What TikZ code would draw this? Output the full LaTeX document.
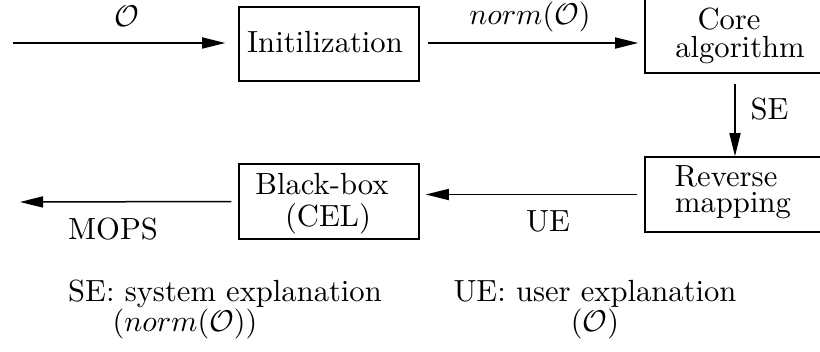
\documentclass[tikz,border=0pt]{standalone}
\usetikzlibrary{arrows.meta,fit}
\begin{document}
\begin{tikzpicture}[x=0.33333pt,y=-0.33333pt,
  every node/.style={font=\fontsize{10.2}{12}\selectfont},
  boxst/.style={draw,line width=0.5pt,inner sep=0pt},
  txt/.style={anchor=base,inner sep=0pt},
  arr/.style={line width=0.5pt,-{Triangle[length=7.7pt,width=3.7pt]}}]
\clip (0,0) rectangle (820,352);
\useasboundingbox (0,0) rectangle (820,352);
% boxes
\node[boxst,fit={(239,7) (419,81)}] (init) {};
\node[boxst,fit={(645,-5) (825,73)}] (core) {};
\node[boxst,fit={(645,157) (825,232)}] (rev) {};
\node[boxst,fit={(239,164) (419,239)}] (bb) {};
% box texts
\node[txt] (tinit) at (325,53) {Initilization};
\node[txt] (tcore1) at (729,30) {Core};
\node[txt] (tcore2) at (740,58) {algorithm};
\node[txt] (trev1) at (726,187) {Reverse};
\node[txt] (trev2) at (733,213) {mapping};
\node[txt] (tbb1) at (322,195) {Black-box};
\node[txt] (tbb2) at (328,227) {(CEL)};
% connectors
\coordinate (in) at (13,43);
\coordinate (out) at (20,202);
\draw[arr,shorten >=4.33pt] (in) -- (in -| init.west);
\draw[arr,shorten <=2.67pt,shorten >=2pt] (in -| init.east) -- (in -| core.west);
\draw[arr,shorten <=3.33pt] (core.south) -- (rev.north);
\draw[arr,shorten <=2.33pt,shorten >=2pt] (rev.west) -- (rev.west -| bb.east);
\draw[arr,shorten <=2.33pt] (bb.west) -- (out);
% connector labels
\node[txt] (lO) at (127,27) {$\mathcal{O}$};
\node[txt] (lnorm) at (530,25) {$norm(\mathcal{O})$};
\node[txt,anchor=base west] (lSE) at (750,120) {SE};
\node[txt] (lUE) at (548,232) {UE};
\node[txt] (lMOPS) at (113,240) {MOPS};
% legend
\node[txt] (leg1) at (225,302) {SE: system explanation};
\node[txt] (leg2) at (185,332) {$(norm(\mathcal{O}))$};
\node[txt] (leg3) at (595,302) {UE: user explanation};
\node[txt] (leg4) at (595,332) {$(\mathcal{O})$};
\end{tikzpicture}
\end{document}
